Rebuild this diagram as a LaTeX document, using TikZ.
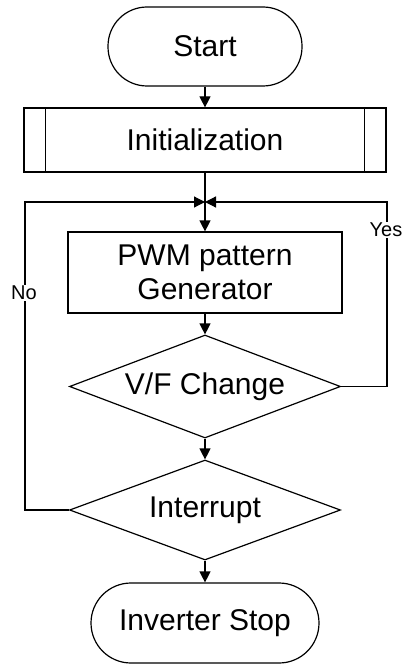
\documentclass[tikz,border=0pt]{standalone}
\usepackage{fontspec}
\setmainfont{Liberation Sans}
\usetikzlibrary{shapes.geometric,arrows.meta}
\begin{document}
\begin{tikzpicture}[x=1pt,y=-1pt,line width=1.2pt,
  term/.style = {draw, rounded corners=39pt, font=\fontsize{30pt}{34pt}\selectfont},
  proc/.style = {draw, align=center, font=\fontsize{30pt}{34pt}\selectfont},
  dec/.style = {draw, diamond, aspect=2.6, inner sep=0pt, font=\fontsize{30pt}{34pt}\selectfont},
  lbl/.style = {fill=white, inner sep=1pt, font=\fontsize{20pt}{22pt}\selectfont},
  arr/.style = {-{Triangle[width=11pt,length=11pt]}}]
        \useasboundingbox (0,0) rectangle (407,666);
        \node[term, minimum width=194pt, minimum height=79pt] (start) at (205,46.5) {Start};
        \node[proc, minimum width=362pt, minimum height=64pt] (init) at (205,140) {Initialization};
        \node[proc, minimum width=274pt, minimum height=81pt] (pwm) at (205,272.5) {PWM pattern\\Generator};
        \node[dec, minimum width=271pt, minimum height=103pt] (vf) at (205,386.5) {V/F Change};
        \node[dec, minimum width=271pt, minimum height=100pt] (intr) at (205,510) {Interrupt};
        \node[term, minimum width=228pt, minimum height=80pt, rounded corners=40pt] (stop) at (205,623) {Inverter Stop};
        \coordinate (j) at (205,202);
        \coordinate (rc) at (387,202);
        \coordinate (lc) at (25,202);
        %
        \draw ([xshift=22pt]init.north west) -- ([xshift=22pt]init.south west);
        \draw ([xshift=-22pt]init.north east) -- ([xshift=-22pt]init.south east);
        %
        \draw[arr] (start) -- (init);
        \draw[arr] (init) -- (pwm);
        \draw[arr] (pwm) -- (vf);
        \draw[arr] (vf) -- (intr);
        \draw[arr] (intr) -- (stop);
        \draw[arr] (vf.east) -| (rc) -- (j);
        \draw[arr] (intr.west) -| (lc) -- (j);
        %
        \node[lbl] (yes) at (386,230) {Yes};
        \node[lbl] (no) at (24,293) {No};
      \end{tikzpicture}
\end{document}
